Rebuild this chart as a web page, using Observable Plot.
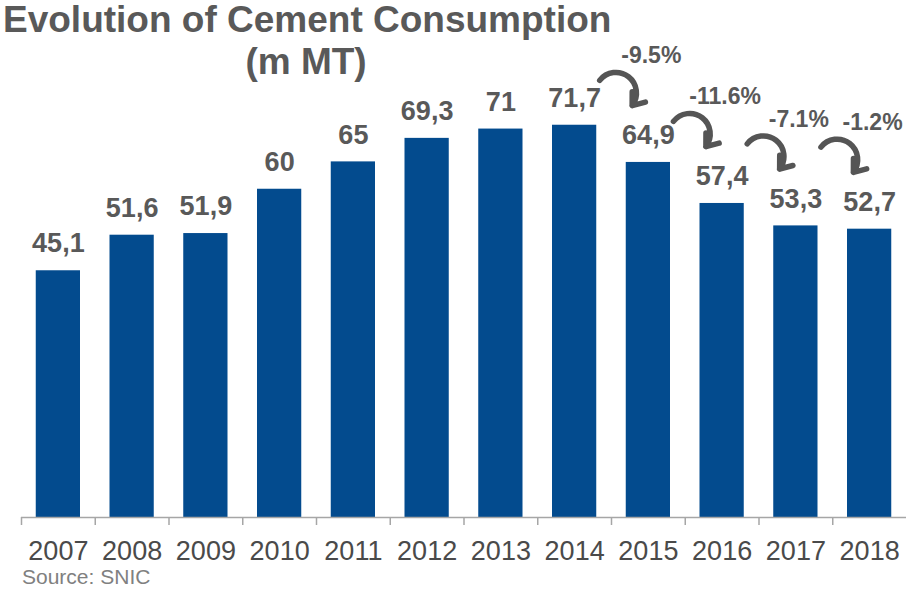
<!DOCTYPE html>
<html>
<head>
<meta charset="utf-8">
<script src="https://cdn.jsdelivr.net/npm/d3@7"></script>
<script src="https://cdn.jsdelivr.net/npm/@observablehq/plot@0.6"></script>
<style>
  body { margin: 0; background: #fff; }
  #wrap { position: relative; width: 906px; height: 592px; font-family: "Liberation Sans", Arial, sans-serif; }
  #title { position: absolute; left: 3px; top: -1px; width: 606px; text-align: center; font-size: 37px; line-height: 42px; font-weight: bold; color: #595959; white-space: nowrap; }
  #source { position: absolute; left: 22px; top: 566px; font-size: 21px; line-height: 21px; color: #808080; }
  #chart { position: absolute; left: 0; top: 0; }
</style>
</head>
<body>
<div id="wrap">
  <div id="chart"></div>
  <div id="title">Evolution of Cement Consumption<br>(m MT)</div>
  <div id="source">Source: SNIC</div>
</div>
<script>
const years = [2007, 2008, 2009, 2010, 2011, 2012, 2013, 2014, 2015, 2016, 2017, 2018];
const values = [45.1, 51.6, 51.9, 60, 65, 69.3, 71, 71.7, 64.9, 57.4, 53.3, 52.7];
const changeYears = [2015, 2016, 2017, 2018];
const changeLabels = ["-9.5%", "-11.6%", "-7.1%", "-1.2%"];

const data = years.map((year, i) => ({year, value: values[i]}));
const changes = changeYears.map((year, i) => ({year, label: changeLabels[i], value: values[years.indexOf(year)]}));
const boundaries = years.map(y => y - 0.5);
const fmt = v => String(v).replace(".", ",");

const chart = Plot.plot({
  width: 906,
  height: 592,
  marginLeft: 21,
  marginRight: 0,
  marginTop: 0,
  marginBottom: 75,
  x: {type: "linear", domain: [2006.5, 2018.5], axis: null},
  y: {type: "linear", domain: [0, 94.5], axis: null},
  style: {fontFamily: "'Liberation Sans', Arial, sans-serif", background: "transparent", overflow: "visible"},
  marks: [
    Plot.rectY(data, {x1: d => d.year - 0.3, x2: d => d.year + 0.3, y: "value", fill: "#034b8e"}),
    Plot.ruleY([0], {stroke: "#a6a6a6", strokeWidth: 1.5}),
    Plot.ruleX(boundaries, {x: d => d, y1: 0, y2: -1.46, stroke: "#a6a6a6", strokeWidth: 1.5}),
    Plot.text(data, {x: "year", y: 0, text: d => String(d.year), dy: 34, fontSize: 27, fill: "#4a4a4a"}),
    Plot.text(data, {x: "year", y: "value", text: d => fmt(d.value), dy: -27, fontSize: 27, fontWeight: "bold", fill: "#595959"}),
    Plot.arrow(changes, {
      x1: d => d.year - 0.66, y1: d => d.value + 15,
      x2: d => d.year - 0.22, y2: d => d.value + 10.4,
      bend: 90, stroke: "#555555", strokeWidth: 5.5, headLength: 4, headAngle: 75
    }),
    Plot.text(changes, {x: d => d.year + 0.04, y: d => d.value + 19.5, text: "label", fontSize: 23, fontWeight: "bold", fill: "#595959"})
  ]
});
document.getElementById("chart").appendChild(chart);
</script>
</body>
</html>
